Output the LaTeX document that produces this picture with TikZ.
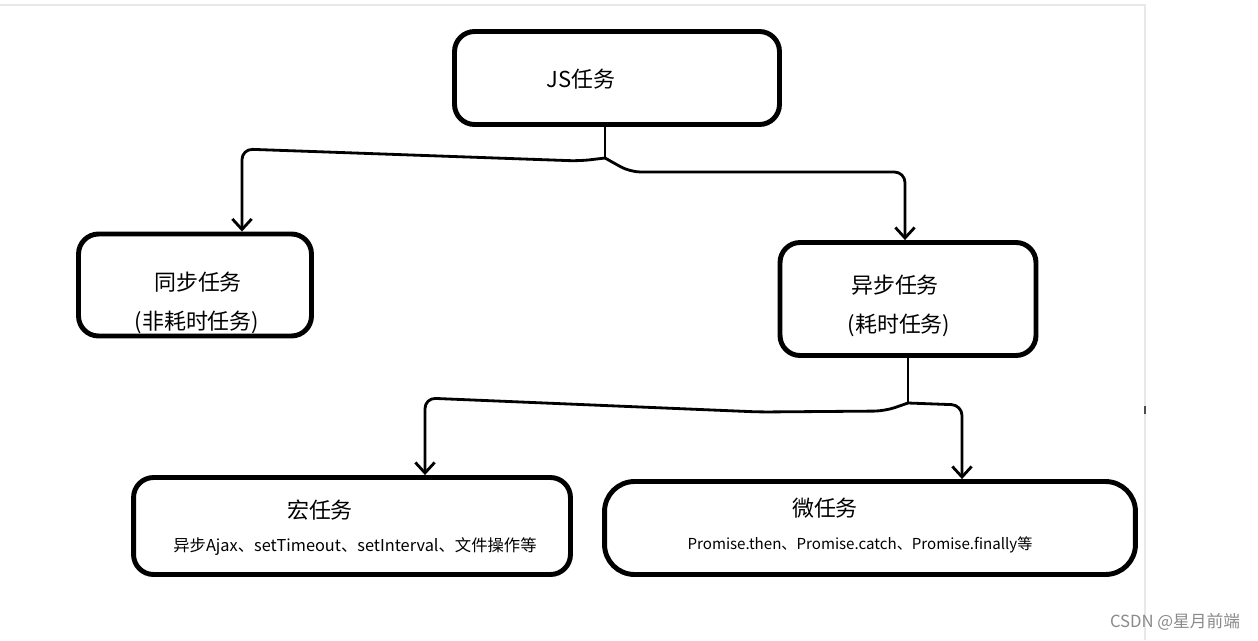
\documentclass[tikz,border=0pt]{standalone}
\usepackage{fontspec}
\setmainfont{Noto Sans CJK SC}
\usetikzlibrary{arrows.meta}
\definecolor{framegray}{HTML}{E8E8E8}
\definecolor{markgray}{HTML}{8A8A8A}

\begin{document}
\begin{tikzpicture}[x=0.02cm, y=-0.02cm,
    box/.style={draw=black, line width=2.8pt, rounded corners=0.4cm, inner sep=0pt},
    link/.style={draw=black, line width=1.6pt, line join=round},
    conn/.style={link, rounded corners=6pt, -{Straight Barb[length=6pt,width=11pt]}},
    title/.style={font=\fontsize{12.5}{15}\selectfont},
    detail/.style={font=\fontsize{9.3}{11}\selectfont}]
    % Canvas and page frame
    \fill[white] (0,0) rectangle (1258,640);
    \useasboundingbox (0,0) rectangle (1258,640);
    \draw[framegray, line width=0.8pt] (0,5) -- (1145,5) -- (1145,640);
    \draw[black!70, line width=1pt] (1145,406) -- (1145,414);

    % Top task
    \node[box, minimum width=6.5cm, minimum height=1.86cm] (js) at (617,78) {};
    \node[title] (jsText) at (581,79) {JS任务};

    % Sync / async tasks
    \node[box, minimum width=4.66cm, minimum height=2.04cm] (sync) at (195,285) {};
    \node[title] (syncText) at (198,282) {同步任务};
    \node[title] (syncNote) at (197,322) {(非耗时任务)};

    \node[box, minimum width=5.12cm, minimum height=2.26cm] (async) at (908,299) {};
    \node[title] (asyncText) at (895,285) {异步任务};
    \node[title] (asyncNote) at (899,325) {(耗时任务)};

    % Macro / micro tasks
    \node[box, minimum width=8.74cm, minimum height=1.94cm] (macro) at (352,526) {};
    \node[title] (macroText) at (320,510) {宏任务};
    \node[detail] (macroNote) at (355,547) {异步Ajax、setTimeout、setInterval、文件操作等};

    \node[box, minimum width=10.62cm, minimum height=1.86cm, rounded corners=0.6cm] (micro) at (870,528) {};
    \node[title] (microText) at (825,508) {微任务};
    \node[detail, font=\fontsize{8.6}{11}\selectfont] (microNote) at (860,545) {Promise.then、Promise.catch、Promise.finally等};

    % Branch points
    \coordinate (jsFork) at (605,158);
    \coordinate (syncDrop) at (242,149);
    \coordinate (asyncDrop) at (905,172);
    \coordinate (asyncFork) at (908,403);
    \coordinate (macroDrop) at (425,398);
    \coordinate (microDrop) at (962,405);

    % Connectors from JS task
    \draw[link] (js.south -| jsFork) -- (jsFork);
    \draw[conn] (jsFork) -- (580,161) -- (syncDrop) -- (sync.north -| syncDrop);
    \draw[conn] (jsFork) -- (630,172) -- (asyncDrop) -- (async.north -| asyncDrop);

    % Connectors from async task
    \draw[link] (async.south -| asyncFork) -- (asyncFork);
    \draw[conn] (asyncFork) -- (885,411) -- (760,412) -- (macroDrop) -- (macro.north -| macroDrop);
    \draw[conn] (asyncFork) -- (microDrop) -- (micro.north -| microDrop);

    % Watermark
    \node[font=\fontsize{9.5}{11}\selectfont, text=markgray] (mark) at (1175,622) {CSDN @星月前端};
\end{tikzpicture}
\end{document}
